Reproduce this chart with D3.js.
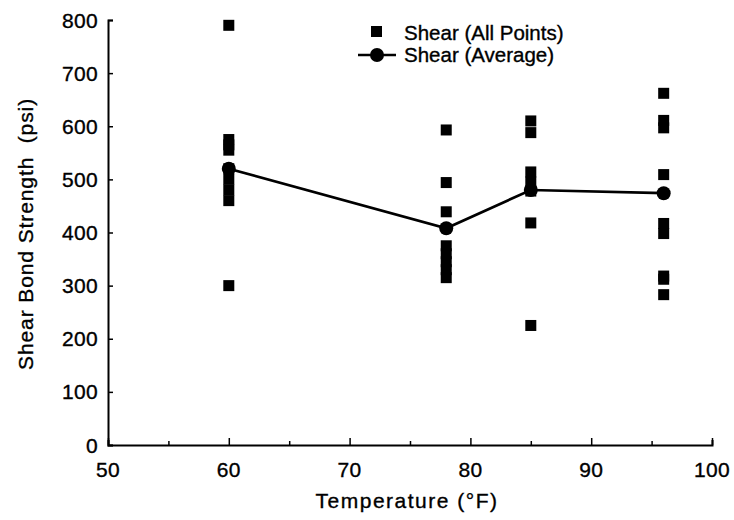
<!DOCTYPE html>
<html>
<head>
<meta charset="utf-8">
<script src="https://cdn.jsdelivr.net/npm/d3@7"></script>
<style>
  body { margin: 0; background: #fff; }
  svg text { font-family: "Liberation Sans", Arial, Helvetica, sans-serif; fill: #000; stroke: #000; stroke-width: 0.35; }
</style>
</head>
<body>
<div id="chart"></div>
<script>
// all measured points (temperature °F, shear strength psi)
const allTemps = [60, 60, 60, 60, 60, 60, 60, 60, 60,
                  78, 78, 78, 78, 78, 78, 78, 78,
                  85, 85, 85, 85, 85, 85, 85,
                  96, 96, 96, 96, 96, 96, 96, 96, 96];
const allShear = [790, 575, 565, 555, 520, 500, 480, 460, 300,
                  593, 494, 439, 375, 360, 345, 330, 315,
                  610, 588, 514, 495, 478, 418, 225,
                  662, 611, 597, 509, 417, 398, 318, 312, 283];

// averages
const avgTemps = [60, 78, 85, 96];
const avgShear = [520, 408, 480, 474];

const xTicks = [50, 60, 70, 80, 90, 100];
const yTicks = [0, 100, 200, 300, 400, 500, 600, 700, 800];

const W = 734, H = 520;
const margin = { left: 108, right: 22, top: 20, bottom: 75 };

const svg = d3.select("#chart").append("svg")
    .attr("width", W).attr("height", H);

const x = d3.scaleLinear().domain([50, 100]).range([margin.left, W - margin.right]);
const y = d3.scaleLinear().domain([0, 800]).range([H - margin.bottom, margin.top]);

// axes, ticks point inward
svg.append("g")
    .attr("transform", `translate(0,${y(0)})`)
    .call(d3.axisBottom(x).tickValues(d3.range(50, 101, 5)).tickSize(-5).tickFormat(""))
    .call(g => g.selectAll(".tick line").attr("stroke-width", 1.5)
        .attr("y2", d => d % 10 === 0 ? -7 : -4))
    .call(g => g.select(".domain").attr("stroke-width", 2));

svg.append("g")
    .attr("transform", `translate(${x(50)},0)`)
    .call(d3.axisLeft(y).tickValues(yTicks).tickSize(-5).tickFormat(""))
    .call(g => g.selectAll(".tick line").attr("stroke-width", 1.5))
    .call(g => g.select(".domain").attr("stroke-width", 2));

// tick labels
svg.append("g").selectAll("text")
    .data(xTicks).join("text")
    .attr("x", d => x(d)).attr("y", 477)
    .attr("text-anchor", "middle")
    .attr("font-size", 21)
    .attr("letter-spacing", 0.3)
    .text(d => d);

svg.append("g").selectAll("text")
    .data(yTicks).join("text")
    .attr("x", x(50) - 10).attr("y", d => y(d) + 7.5)
    .attr("text-anchor", "end")
    .attr("font-size", 21)
    .attr("letter-spacing", 0.3)
    .text(d => d);

// axis titles
svg.append("text")
    .attr("x", 407).attr("y", 508)
    .attr("text-anchor", "middle")
    .attr("font-size", 21)
    .attr("letter-spacing", 1.5)
    .text("Temperature (°F)");

svg.append("text")
    .attr("transform", `translate(33,234) rotate(-90)`)
    .attr("text-anchor", "middle")
    .attr("font-size", 21)
    .attr("letter-spacing", 0.9)
    .attr("xml:space", "preserve")
    .text("Shear Bond Strength  (psi)");

// average line
const line = d3.line().x(d => x(d[0])).y(d => y(d[1]));
svg.append("path")
    .datum(avgTemps.map((t, i) => [t, avgShear[i]]))
    .attr("d", line)
    .attr("fill", "none")
    .attr("stroke", "#000")
    .attr("stroke-width", 2.7);

// all points
const sq = 11;
svg.append("g").selectAll("rect")
    .data(allTemps.map((t, i) => [t, allShear[i]]))
    .join("rect")
    .attr("x", d => x(d[0]) - sq / 2)
    .attr("y", d => y(d[1]) - sq / 2)
    .attr("width", sq).attr("height", sq)
    .attr("fill", "#000");

svg.append("g").selectAll("circle")
    .data(avgTemps.map((t, i) => [t, avgShear[i]]))
    .join("circle")
    .attr("cx", d => x(d[0])).attr("cy", d => y(d[1]))
    .attr("r", 7)
    .attr("fill", "#000");

// legend
const lg = svg.append("g");
lg.append("rect").attr("x", 371).attr("y", 26).attr("width", sq).attr("height", sq).attr("fill", "#000");
lg.append("text").attr("x", 404).attr("y", 40).attr("font-size", 20.5).text("Shear (All Points)");
lg.append("line").attr("x1", 358).attr("x2", 396).attr("y1", 55).attr("y2", 55)
    .attr("stroke", "#000").attr("stroke-width", 2.7);
lg.append("circle").attr("cx", 377).attr("cy", 55).attr("r", 7).attr("fill", "#000");
lg.append("text").attr("x", 404).attr("y", 62).attr("font-size", 20.5).text("Shear (Average)");
</script>
</body>
</html>
